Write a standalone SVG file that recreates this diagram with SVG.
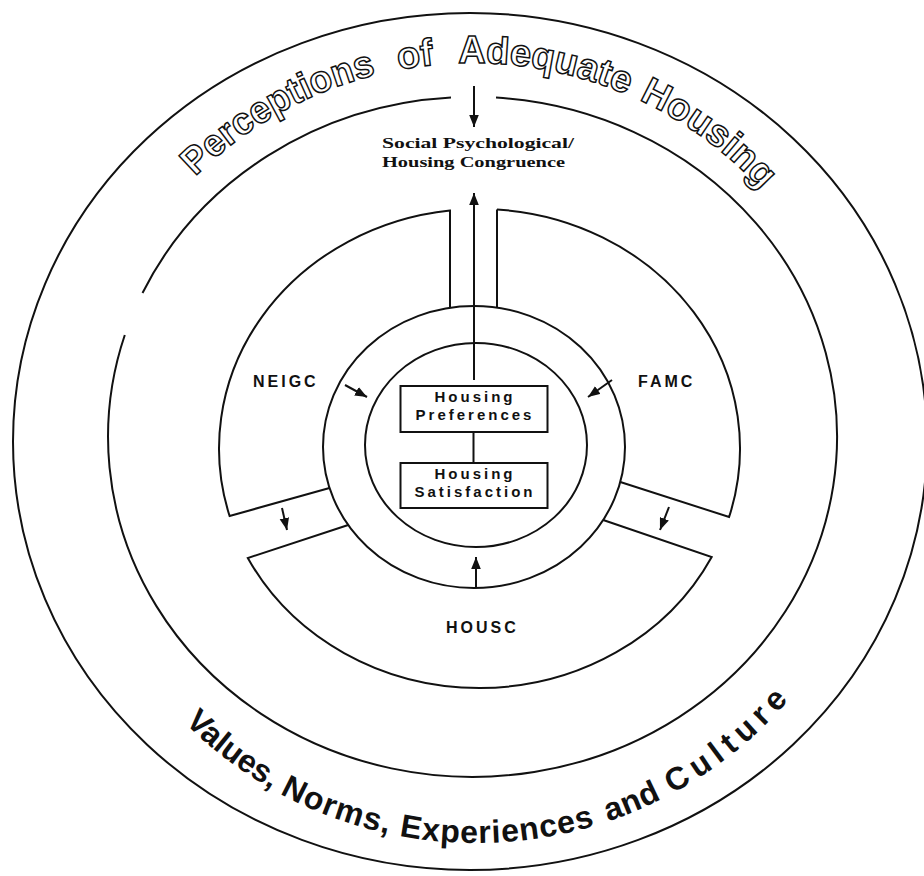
<svg xmlns="http://www.w3.org/2000/svg" width="924" height="876" viewBox="0 0 924 876">
<defs>
<style>
.ln{fill:none;stroke:#111;stroke-width:2}
.lbl{font-family:"Liberation Sans",Arial,sans-serif;font-weight:bold;font-size:16px;letter-spacing:3px;fill:#111}
.box{fill:#fff;stroke:#111;stroke-width:2}
.bt{font-family:"Liberation Sans",Arial,sans-serif;font-weight:bold;font-size:15px;letter-spacing:3px;fill:#111;text-anchor:middle}
.arcout{font-family:"Liberation Sans",Arial,sans-serif;font-weight:bold;font-size:38px;fill:#fff;stroke:#111;stroke-width:1.5}
.arcin{font-family:"Liberation Sans",Arial,sans-serif;font-weight:bold;font-size:32px;fill:#111}
.cg{font-family:"Liberation Serif","Times New Roman",serif;font-weight:bold;font-size:15px;fill:#111}
.conn{fill:none;stroke:#111;stroke-width:2}
.arr{marker-end:url(#ah)}
</style>
<marker id="ah" viewBox="0 0 10 8" refX="10" refY="4" markerWidth="12" markerHeight="10" markerUnits="userSpaceOnUse" orient="auto"><path d="M0,0 L10,4 L0,8 z" fill="#111"/></marker>
<path id="topArc" d="M85,440 A387 377 0 0 1 859,440"/>
<path id="botArc" d="M67,440 A409 403 0 0 0 885,440"/>
</defs>
<rect width="924" height="876" fill="#fff"/>

<g id="outer-values">
<ellipse class="ln" cx="470" cy="441.5" rx="457" ry="428.5"/>
<text class="arcout"><textPath href="#topArc" startOffset="293" textLength="210" lengthAdjust="spacingAndGlyphs">Perceptions</textPath></text>
<text class="arcout"><textPath href="#topArc" startOffset="526">of</textPath></text>
<text class="arcout"><textPath href="#topArc" startOffset="586" textLength="173" lengthAdjust="spacing">Adequate</textPath></text>
<text class="arcout"><textPath href="#topArc" startOffset="772" textLength="153" lengthAdjust="spacing">Housing</textPath></text>
<text class="arcin"><textPath href="#botArc" startOffset="314" textLength="110" lengthAdjust="spacingAndGlyphs">Values,</textPath></text>
<text class="arcin"><textPath href="#botArc" startOffset="433" textLength="116" lengthAdjust="spacing">Norms,</textPath></text>
<text class="arcin"><textPath href="#botArc" startOffset="560" textLength="198" lengthAdjust="spacing">Experiences</textPath></text>
<text class="arcin"><textPath href="#botArc" startOffset="772" textLength="58" lengthAdjust="spacing">and</textPath></text>
<text class="arcin"><textPath href="#botArc" startOffset="842" textLength="150" lengthAdjust="spacing">Culture</textPath></text>
</g>

<g id="congruence">
<path class="ln" d="M496,97.6 A364.5 340 0 1 1 124.8,335"/>
<path class="ln" d="M142.5,293 A364.5 340 0 0 1 451,97.6"/>
<text class="cg" x="382" y="148" textLength="192" lengthAdjust="spacingAndGlyphs">Social Psychological/</text>
<text class="cg" x="382" y="167" textLength="183" lengthAdjust="spacingAndGlyphs">Housing Congruence</text>
</g>

<g id="famc">
<path class="ln" d="M497,209.5 A260.5 239.5 0 0 1 729.1,517 L620.3,482"/>
<line class="ln" x1="497" y1="209.5" x2="497" y2="307.6"/>
<text class="lbl" x="638" y="387">FAMC</text>
</g>
<g id="housc">
<path class="ln" d="M603.2,520 L711.7,557 A260.5 239.5 0 0 1 247.8,558 L348.2,525"/>
<text class="lbl" x="446" y="633">HOUSC</text>
</g>
<g id="neigc">
<path class="ln" d="M329.5,488 L229.6,516 A260.5 239.5 0 0 1 450,210.5 L450,307.8"/>
<text class="lbl" x="253" y="387">NEIGC</text>
</g>

<g id="ring">
<ellipse class="ln" cx="474" cy="447" rx="151" ry="141"/>
</g>
<g id="inner">
<ellipse class="ln" cx="476" cy="445" rx="111" ry="102"/>
</g>

<g id="housing-preferences">
<rect class="box" x="400.5" y="386" width="147" height="46"/>
<text class="bt" x="475" y="402">Housing</text>
<text class="bt" x="475" y="420">Preferences</text>
</g>
<g id="housing-satisfaction">
<rect class="box" x="400.5" y="463" width="147" height="45"/>
<text class="bt" x="475" y="479">Housing</text>
<text class="bt" x="475" y="497">Satisfaction</text>
</g>

<g id="connectors">
<line class="conn arr" x1="474" y1="86" x2="474" y2="127"/>
<line class="conn arr" x1="474" y1="380" x2="474" y2="193"/>
<line class="conn" x1="473.5" y1="432" x2="473.5" y2="463"/>
<line class="conn arr" x1="476" y1="588" x2="476" y2="557"/>
<line class="conn arr" x1="345" y1="385" x2="367" y2="397"/>
<line class="conn arr" x1="612" y1="380" x2="588" y2="397"/>
<line class="conn arr" x1="282" y1="508" x2="287" y2="530"/>
<line class="conn arr" x1="669" y1="507" x2="660" y2="530"/>
</g>
</svg>
